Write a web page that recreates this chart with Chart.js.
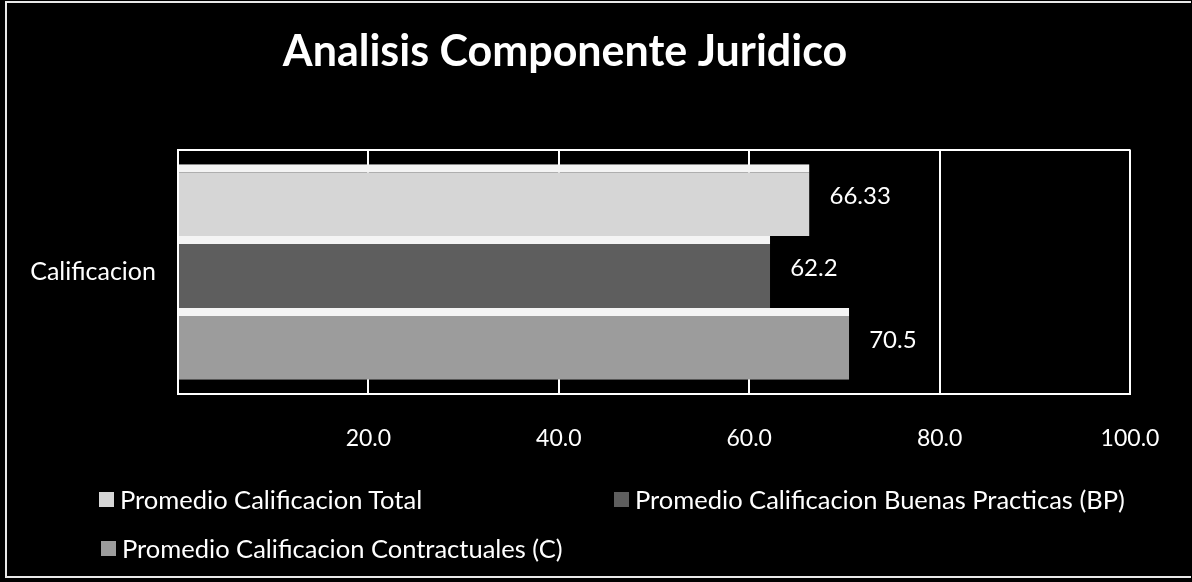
<!DOCTYPE html>
<html>
<head>
<meta charset="utf-8">
<script src="https://cdn.jsdelivr.net/npm/chart.js@4.4.1/dist/chart.umd.min.js"></script>
<style>
  html, body { margin: 0; padding: 0; background: #000; }
  #wrap { position: relative; width: 1192px; height: 582px; overflow: hidden; }
  #chart { position: absolute; left: 0; top: 0; }
  #frame {
    position: absolute; left: 5px; top: 1px; width: 1186px; height: 577px;
    border-left: 2px solid #e8e8e8; border-top: 2px solid #e8e8e8; border-bottom: 2px solid #e8e8e8;
    box-sizing: border-box; pointer-events: none;
  }
  .leg {
    position: absolute; font: 25.5px Lato, sans-serif; color: #fff; line-height: 30px;
    white-space: nowrap; display: flex; align-items: center;
  }
  .leg span.box { display: inline-block; width: 15px; height: 15px; margin-right: 6px; }
</style>
</head>
<body>
<div id="wrap">
  <canvas id="chart" width="1192" height="582"></canvas>
  <div id="frame"></div>
  <div id="legend"></div>
</div>
<script>
const categories = ["Calificacion"]
const seriesNames = [
  "Promedio Calificacion Total",
  "Promedio Calificacion Buenas Practicas (BP)",
  "Promedio Calificacion Contractuales (C)"
]
const totalValues = [66.33]
const bpValues = [62.2]
const cValues = [70.5]
const xMin = 0
const xMax = 100
const xStep = 20

const fills = ["#d6d6d6", "#5e5e5e", "#9c9c9c"]

const valueLabels = {
  id: "valueLabels",
  afterDatasetsDraw(chart) {
    const ctx = chart.ctx
    ctx.save()
    ctx.fillStyle = "#fff"
    ctx.font = "24px Lato, sans-serif"
    ctx.textAlign = "left"
    ctx.textBaseline = "middle"
    chart.data.datasets.forEach((ds, i) => {
      chart.getDatasetMeta(i).data.forEach((bar, j) => {
        ctx.fillText(String(ds.data[j]), bar.x + 20, bar.y - 4)
      })
    })
    ctx.restore()
  }
}

const data = {
  labels: categories,
  datasets: [totalValues, bpValues, cValues].map((vals, i) => ({
    label: seriesNames[i],
    data: vals,
    backgroundColor: fills[i],
    borderColor: "#f4f4f4",
    borderWidth: { top: 8, right: 0, bottom: 0, left: 0 },
    borderSkipped: false,
    barPercentage: 1,
    categoryPercentage: 0.88
  }))
}

const chart = new Chart(document.getElementById("chart"), {
  type: "bar",
  data: data,
  plugins: [valueLabels],
  options: {
    indexAxis: "y",
    responsive: false,
    animation: false,
    layout: { padding: { top: 0, right: 62, bottom: 100, left: 0 } },
    plugins: {
      legend: { display: false },
      title: {
        display: true,
        text: "Analisis Componente Juridico",
        color: "#fff",
        font: { family: "Lato", size: 43, weight: "bold" },
        padding: { top: 26, bottom: 72 }
      },
      tooltip: { enabled: false }
    },
    scales: {
      x: {
        min: xMin,
        max: xMax,
        ticks: {
          stepSize: xStep,
          color: "#fff",
          padding: 30,
          font: { family: "Lato", size: 23 },
          callback: (v) => v === 0 ? "" : v.toFixed(1)
        },
        grid: { color: "#ffffff", lineWidth: 2, drawTicks: false },
        border: { color: "#ffffff", width: 2 }
      },
      y: {
        afterFit: (scale) => { scale.width = 178 },
        ticks: {
          color: "#fff",
          padding: 22,
          font: { family: "Lato", size: 25 }
        },
        grid: { color: "#ffffff", lineWidth: 2, drawTicks: false, offset: true },
        border: { color: "#ffffff", width: 2 }
      }
    }
  }
})

// legend, two columns like the original
const legendSpots = [[99, 484], [614, 484], [101, 533]]
const legend = document.getElementById("legend")
chart.data.datasets.forEach((ds, i) => {
  const item = document.createElement("div")
  item.className = "leg"
  item.style.left = legendSpots[i][0] + "px"
  item.style.top = legendSpots[i][1] + "px"
  item.innerHTML = '<span class="box" style="background:' + ds.backgroundColor + '"></span>' + ds.label
  legend.appendChild(item)
})
</script>
</body>
</html>
